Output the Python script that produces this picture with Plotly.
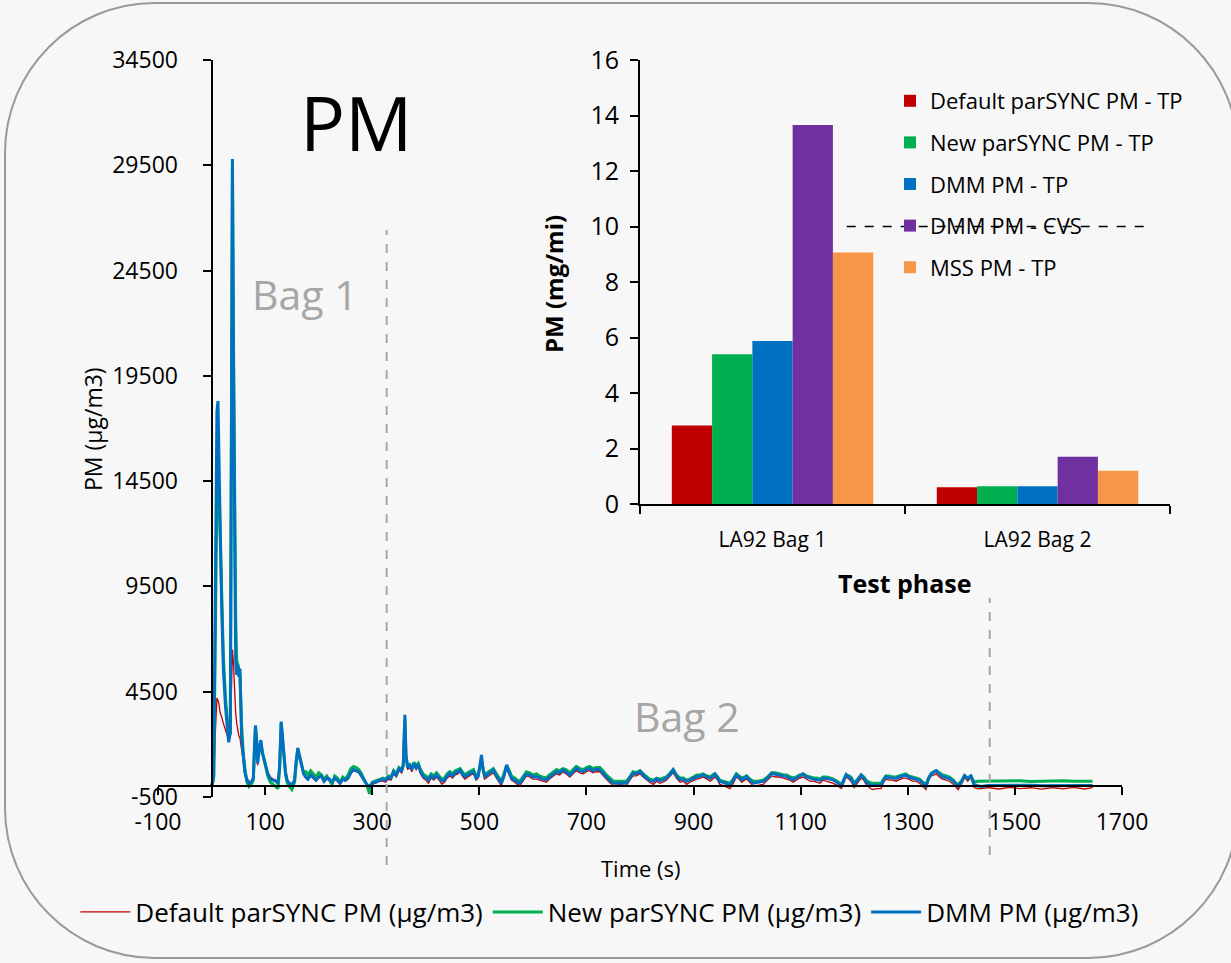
import plotly.graph_objects as go

# ---------------- data: time series ----------------
time_s = [0, 4, 7, 10, 12, 14, 16, 19, 22, 26, 29, 32, 35, 37, 39, 41, 43, 45, 47, 49, 51, 53, 56, 59, 62, 66, 70, 74, 78, 80,
          82, 84, 86, 89, 92, 95, 98, 101, 105, 110, 115, 120, 124, 127, 130, 132, 135, 138, 141, 145, 150, 155, 158, 161, 164, 168, 172, 176, 180, 185,
          190, 195, 200, 205, 210, 215, 220, 225, 230, 235, 240, 245, 250, 255, 260, 265, 270, 275, 280, 285, 290, 295, 300, 305, 310, 315, 320, 325, 330, 335,
          340, 345, 350, 355, 358, 361, 363, 366, 370, 374, 378, 382, 386, 390, 395, 400, 405, 410, 415, 420, 425, 430, 435, 440, 445, 450, 455, 460, 464, 468,
          473, 478, 484, 489, 494, 498, 501, 504, 507, 510, 515, 520, 526, 532, 537, 541, 546, 551, 555, 560, 566, 571, 576, 582, 588, 594, 600, 607, 612, 618,
          625, 631, 638, 644, 650, 656, 662, 669, 675, 681, 688, 694, 700, 706, 712, 718, 725, 731, 737, 743, 750, 756, 762, 768, 775, 781, 787, 793, 800, 806,
          812, 818, 825, 831, 837, 843, 849, 855, 862, 868, 875, 881, 887, 893, 900, 906, 912, 918, 925, 931, 936, 940, 945, 949, 955, 962, 968, 974, 980, 985,
          990, 995, 999, 1005, 1012, 1020, 1030, 1038, 1046, 1053, 1061, 1068, 1074, 1080, 1086, 1092, 1098, 1105, 1111, 1117, 1124, 1130, 1136, 1142, 1148, 1155, 1161, 1168, 1176, 1181,
          1185, 1190, 1194, 1200, 1207, 1213, 1218, 1222, 1228, 1234, 1242, 1250, 1255, 1259, 1265, 1272, 1278, 1285, 1291, 1296, 1302, 1309, 1316, 1322, 1328, 1334, 1339, 1344, 1349, 1353,
          1359, 1365, 1372, 1378, 1385, 1390, 1394, 1400, 1406, 1409, 1412, 1415, 1418, 1421, 1424, 1430, 1437, 1450, 1470, 1490, 1510, 1530, 1550, 1570, 1590, 1610, 1630, 1645]

dmm_pm = [0, 500, 9000, 17800, 18300, 16000, 12500, 8500, 5600, 3800, 2800, 2100, 2600, 15000, 29800, 20000, 12000, 6000, 5300, 5800, 5200, 5600, 2400, 1300, 700, 300, 150, 200, 400, 1800,
          2900, 2300, 1100, 1800, 2200, 1600, 1300, 900, 600, 350, 300, 250, 150, 900, 3080, 2500, 1400, 700, 300, 150, 80, 300, 1200, 1830, 1500, 1000, 600, 450, 350, 550,
          400, 300, 450, 500, 250, 400, 350, 200, 400, 300, 150, 350, 300, 400, 650, 800, 750, 700, 500, 300, 100, 0, 150, 200, 250, 300, 350, 300, 450, 400,
          700, 550, 850, 750, 1000, 3400, 1500, 900, 1000, 800, 1100, 900, 1050, 700, 500, 400, 300, 500, 400, 550, 400, 250, 300, 500, 630, 500, 650, 700, 790, 600,
          470, 550, 650, 710, 400, 500, 1000, 1500, 800, 470, 550, 650, 790, 500, 300, 160, 500, 1030, 700, 390, 300, 200, 160, 400, 590, 550, 450, 470, 400, 350,
          320, 450, 600, 710, 650, 790, 700, 550, 700, 870, 750, 710, 800, 870, 750, 820, 790, 630, 450, 300, 160, 150, 180, 150, 160, 400, 630, 600, 710, 550,
          390, 300, 240, 350, 280, 320, 400, 550, 790, 500, 320, 350, 240, 300, 400, 470, 500, 550, 450, 390, 480, 590, 400, 240, 200, 120, 80, 300, 550, 450,
          320, 400, 470, 300, 160, 200, 240, 400, 630, 580, 550, 500, 470, 400, 320, 400, 500, 590, 450, 390, 350, 320, 300, 400, 380, 350, 300, 200, 30, 300,
          570, 450, 380, 100, 300, 540, 400, 220, 100, 60, 70, 60, 300, 460, 420, 400, 380, 450, 500, 540, 450, 380, 350, 300, 150, 0, 400, 620, 700, 750,
          600, 460, 420, 380, 250, 100, 0, 200, 520, 450, 380, 450, 500, 300, 80, 30, 0, 50, 60, 40, 50, 60, 40, 50, 60, 40, 50, 50]

new_parsync_pm = [0, 400, 7000, 14000, 14800, 14000, 12000, 9000, 6200, 4200, 3000, 2300, 2500, 14000, 29500, 21000, 13500, 8000, 6000, 5700, 5600, 5300, 3000, 1600, 900, 200, 0, 100, 300, 1600,
          2800, 2200, 1200, 1700, 2100, 1600, 1200, 950, 500, 200, 100, 0, -100, 800, 3000, 2400, 1300, 600, 200, 0, -150, 200, 1100, 1750, 1400, 950, 650, 700, 550, 750,
          600, 450, 650, 550, 350, 500, 300, 100, 500, 400, 200, 450, 350, 550, 850, 950, 900, 800, 600, 350, 50, -350, 200, 250, 300, 350, 400, 350, 500, 450,
          750, 600, 900, 800, 1050, 3200, 1450, 1000, 1050, 900, 1150, 1000, 1100, 800, 600, 500, 400, 600, 500, 650, 500, 350, 400, 600, 700, 600, 750, 800, 850, 700,
          550, 650, 750, 800, 500, 600, 900, 1300, 850, 550, 650, 750, 850, 600, 400, 250, 600, 1000, 800, 500, 400, 300, 250, 500, 700, 650, 550, 600, 500, 450,
          400, 550, 700, 800, 750, 850, 800, 650, 800, 950, 850, 800, 900, 950, 850, 900, 900, 750, 550, 400, 250, 250, 250, 250, 250, 450, 700, 650, 750, 600,
          450, 350, 300, 400, 350, 400, 450, 600, 800, 550, 400, 400, 300, 350, 450, 550, 550, 600, 500, 450, 550, 600, 450, 300, 250, 200, 150, 350, 600, 500,
          400, 450, 500, 350, 250, 250, 300, 450, 650, 650, 600, 550, 550, 450, 400, 450, 550, 600, 500, 450, 400, 400, 350, 450, 450, 400, 350, 250, 100, 350,
          550, 500, 450, 150, 350, 550, 450, 300, 200, 150, 150, 150, 350, 500, 500, 450, 450, 500, 550, 600, 500, 450, 400, 350, 200, 100, 400, 600, 700, 750,
          650, 550, 500, 450, 300, 150, 100, 250, 500, 450, 400, 450, 500, 350, 200, 250, 250, 250, 280, 250, 270, 240, 260, 250, 270, 250, 260, 250]

default_parsync_pm = [0, 200, 2500, 4200, 4100, 3900, 3500, 3300, 3000, 2700, 2400, 2200, 2300, 4000, 6500, 5800, 4200, 3500, 3000, 2600, 2400, 2300, 1800, 1200, 700, 400, 250, 200, 350, 1500,
          2700, 2200, 1000, 1700, 2100, 1500, 1200, 1000, 700, 450, 350, 300, 200, 850, 3000, 2400, 1350, 650, 250, 100, 50, 250, 1150, 1750, 1450, 950, 550, 400, 300, 500,
          350, 250, 400, 450, 200, 350, 300, 150, 350, 250, 100, 300, 250, 350, 600, 750, 700, 650, 450, 250, 50, -50, 100, 150, 200, 250, 250, 200, 350, 300,
          600, 450, 750, 650, 900, 3100, 1400, 800, 900, 700, 1000, 800, 950, 600, 400, 300, 150, 400, 300, 450, 300, 100, 200, 400, 500, 400, 550, 600, 700, 500,
          350, 450, 550, 600, 300, 400, 850, 1300, 700, 350, 450, 550, 650, 400, 200, 50, 400, 900, 600, 300, 200, 100, 50, 300, 500, 450, 350, 350, 300, 250,
          200, 350, 500, 600, 550, 700, 600, 450, 600, 750, 650, 600, 700, 750, 650, 700, 700, 500, 350, 200, 50, 50, 100, 50, 50, 300, 500, 500, 600, 450,
          300, 200, 100, 250, 150, 200, 300, 450, 650, 400, 200, 250, 100, 200, 300, 350, 400, 450, 350, 250, 350, 450, 300, 100, 50, -50, -100, 150, 450, 350,
          200, 300, 350, 200, 0, 50, 100, 300, 500, 450, 450, 400, 350, 300, 200, 300, 400, 450, 350, 250, 250, 200, 150, 300, 250, 200, 150, 50, -100, 200,
          450, 350, 250, -50, 200, 400, 300, 100, -50, -150, -100, -100, 200, 350, 300, 300, 250, 350, 400, 400, 350, 250, 250, 150, 0, -150, 300, 500, 550, 600,
          450, 350, 300, 250, 100, -50, -150, 100, 400, 350, 250, 350, 400, 200, -50, -100, -100, -50, -120, -40, -100, -60, -130, -50, -110, -40, -120, -60]

series_names = ["Default parSYNC PM (µg/m3)", "New parSYNC PM (µg/m3)", "DMM PM (µg/m3)"]
series_colors = ["#C00000", "#00B050", "#0070C0"]

x_tick_vals = [-100, 100, 300, 500, 700, 900, 1100, 1300, 1500, 1700]
x_tick_text = ["-100", "100", "300", "500", "700", "900", "1100", "1300", "1500", "1700"]
y_tick_vals = [-500, 4500, 9500, 14500, 19500, 24500, 29500, 34500]
y_tick_text = ["-500", "4500", "9500", "14500", "19500", "24500", "29500", "34500"]

bag_boundaries_s = [327, 1453]

# ---------------- data: inset bar chart ----------------
test_phases = ["LA92 Bag 1", "LA92 Bag 2"]
bar_names = ["Default parSYNC PM - TP", "New parSYNC PM - TP", "DMM PM - TP", "DMM PM - CVS", "MSS PM - TP"]
bar_values = [
    [2.83, 0.60],
    [5.40, 0.64],
    [5.87, 0.64],
    [13.66, 1.70],
    [9.06, 1.20],
]
bar_colors = ["#C00000", "#00B050", "#0070C0", "#7030A0", "#F79646"]
limit_mg_mi = 10

# ---------------- layout helpers ----------------
W, H = 1231, 963
def px(x):
    return x / W
def py(y):
    return 1 - y / H

FONT = "Open Sans"

x_range = [-100, 1700]
y_range = [-500, 34500]
xdom = [px(158), px(1122)]
ydom = [py(797), py(60)]
xaxis_pos = ydom[0] + (0 - y_range[0]) / (y_range[1] - y_range[0]) * (ydom[1] - ydom[0])
yaxis_pos = xdom[0] + (0 - x_range[0]) / (x_range[1] - x_range[0]) * (xdom[1] - xdom[0])

fig = go.Figure()

widths = [1.3, 3, 3]
for name, vals, col, w in zip(series_names, [default_parsync_pm, new_parsync_pm, dmm_pm], series_colors, widths):
    fig.add_trace(go.Scatter(x=time_s, y=vals, mode="lines", name=name,
                             line=dict(color=col, width=w), xaxis="x", yaxis="y", legend="legend"))

for name, vals, col in zip(bar_names, bar_values, bar_colors):
    fig.add_trace(go.Bar(x=test_phases, y=vals, name=name, marker=dict(color=col, line=dict(width=0)),
                         xaxis="x2", yaxis="y2", legend="legend2", legendgroup=name))

# rounded frame
def rounded_rect(x0, y0, x1, y1, r):
    k = 0.5523 * r
    def P(x, y):
        return f"{px(x):.5f},{py(y):.5f}"
    d = f"M{P(x0 + r, y0)} L{P(x1 - r, y0)} C{P(x1 - r + k, y0)} {P(x1, y0 + r - k)} {P(x1, y0 + r)} "
    d += f"L{P(x1, y1 - r)} C{P(x1, y1 - r + k)} {P(x1 - r + k, y1)} {P(x1 - r, y1)} "
    d += f"L{P(x0 + r, y1)} C{P(x0 + r - k, y1)} {P(x0, y1 - r + k)} {P(x0, y1 - r)} "
    d += f"L{P(x0, y0 + r)} C{P(x0, y0 + r - k)} {P(x0 + r - k, y0)} {P(x0 + r, y0)} Z"
    return d

shapes = [dict(type="path", xref="paper", yref="paper", path=rounded_rect(5, 3, 1238, 958, 150),
               line=dict(color="#9A9A9A", width=2), layer="below")]
for b, ytop, ybot in zip(bag_boundaries_s, [230, 598], [865, 855]):
    shapes.append(dict(type="line", xref="x", yref="paper", x0=b, x1=b, y0=py(ybot), y1=py(ytop),
                       line=dict(color="#A6A6A6", width=2, dash="dash")))
shapes.append(dict(type="line", xref="x2", yref="y2", x0=0.28, x1=1.43, y0=limit_mg_mi, y1=limit_mg_mi,
                   line=dict(color="black", width=1.5, dash="dash"), layer="above"))

def ann(text, x, y, size, color="black", angle=0, bold=False):
    return dict(text=f"<b>{text}</b>" if bold else text, x=px(x), y=py(y), xref="paper", yref="paper",
                showarrow=False, xanchor="center", yanchor="middle", textangle=angle,
                font=dict(family=FONT, size=size, color=color))

annotations = [
    ann("PM", 356, 122, 75),
    ann("Bag 1", 305, 294, 41, "#A6A6A6"),
    ann("Bag 2", 687, 716, 41, "#A6A6A6"),
    ann("Time (s)", 641, 868, 22),
    ann("PM (µg/m3)", 93, 429, 23, angle=-90),
    ann("PM (mg/mi)", 554, 284, 24, angle=-90, bold=True),
    ann("Test phase", 905, 583, 25, bold=True),
]

fig.update_layout(
    width=W, height=H,
    margin=dict(l=0, r=0, t=0, b=0, autoexpand=False),
    paper_bgcolor="#F7F7F7", plot_bgcolor="rgba(0,0,0,0)",
    font=dict(family=FONT, color="black"),
    showlegend=True,
    barmode="group", bargap=0.24, bargroupgap=0,
    xaxis=dict(domain=xdom, range=x_range, anchor="free", position=xaxis_pos,
               tickmode="array", tickvals=x_tick_vals, ticktext=x_tick_text, showgrid=False, zeroline=False,
               showline=True, linecolor="black", linewidth=2, ticks="outside", ticklen=8, tickwidth=2,
               tickcolor="black", tickfont=dict(size=23, family=FONT), ticklabelstandoff=7),
    yaxis=dict(domain=ydom, range=y_range, anchor="free", position=yaxis_pos,
               tickmode="array", tickvals=y_tick_vals, ticktext=y_tick_text, showgrid=False, zeroline=False,
               showline=True, linecolor="black", linewidth=2, ticks="outside", ticklen=8, tickwidth=2,
               tickcolor="black", tickfont=dict(size=23, family=FONT), ticklabelstandoff=20),
    xaxis2=dict(domain=[px(640), px(1170)], anchor="y2", showgrid=False, zeroline=False,
                showline=True, linecolor="black", linewidth=2, ticks="outside", ticklen=8, tickwidth=2,
                tickson="boundaries", tickcolor="black", tickfont=dict(size=21, family=FONT), ticklabelstandoff=16),
    yaxis2=dict(domain=[py(504), py(60)], anchor="x2", range=[0, 16], tickmode="linear", tick0=0, dtick=2,
                showgrid=False, zeroline=False, showline=True, linecolor="black", linewidth=2,
                ticks="outside", ticklen=8, tickwidth=2, tickcolor="black", tickfont=dict(size=25, family=FONT),
                ticklabelstandoff=6),
    legend=dict(orientation="h", x=0.495, xanchor="center", y=py(912), yanchor="middle",
                font=dict(size=26, family=FONT), bgcolor="rgba(0,0,0,0)", itemwidth=50, traceorder="normal"),
    legend2=dict(orientation="v", x=px(890), xanchor="left", y=py(80), yanchor="top",
                 font=dict(size=22, family=FONT), bgcolor="rgba(0,0,0,0)", tracegroupgap=10),
    shapes=shapes,
    annotations=annotations,
    hovermode=False,
)

fig.write_html("out.html", config={"displayModeBar": False},
               post_script="document.body.style.margin='0';document.body.style.background='#F7F7F7';")
